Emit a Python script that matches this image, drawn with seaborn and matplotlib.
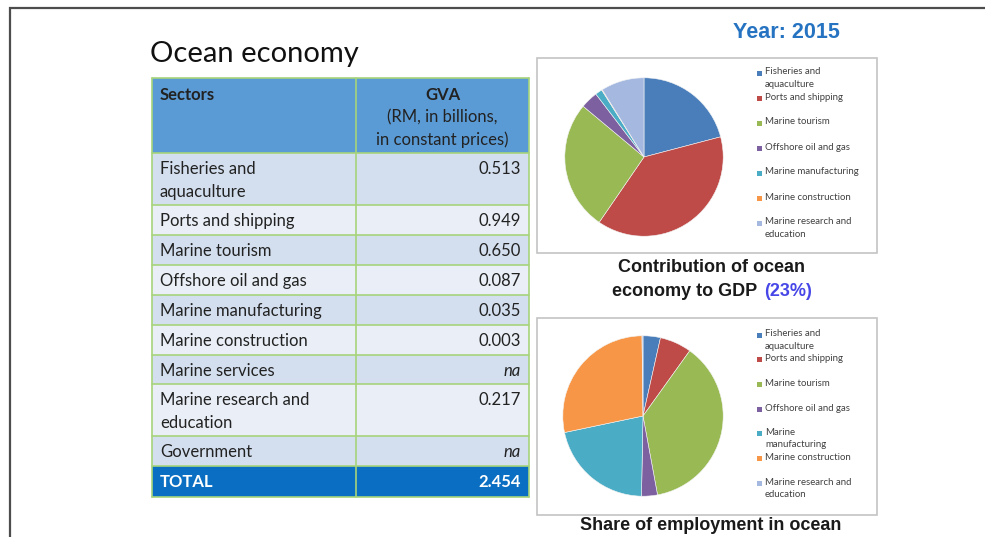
import matplotlib
matplotlib.use("Agg")
import matplotlib.pyplot as plt
from matplotlib.patches import Rectangle
import seaborn as sns

# ---- data -------------------------------------------------------------
sectors = ["Fisheries and\naquaculture", "Ports and shipping", "Marine tourism",
           "Offshore oil and gas", "Marine manufacturing", "Marine construction",
           "Marine services", "Marine research and\neducation", "Government"]
gva = [0.513, 0.949, 0.650, 0.087, 0.035, 0.003, None, 0.217, None]
gva_total = 2.454

pie_sectors = ["Fisheries and aquaculture", "Ports and shipping", "Marine tourism",
               "Offshore oil and gas", "Marine manufacturing", "Marine construction",
               "Marine research and education"]
gdp_values = [0.513, 0.949, 0.650, 0.087, 0.035, 0.003, 0.217]
employment_share = [3.5, 6.4, 37.2, 3.2, 21.4, 28.1, 0.2]

gdp_legend = ["Fisheries and\naquaculture", "Ports and shipping", "Marine tourism",
              "Offshore oil and gas", "Marine manufacturing", "Marine construction",
              "Marine research and\neducation"]
emp_legend = ["Fisheries and\naquaculture", "Ports and shipping", "Marine tourism",
              "Offshore oil and gas", "Marine\nmanufacturing", "Marine construction",
              "Marine research and\neducation"]

year_label = "Year: 2015"
gdp_share_label = "(23%)"

# ---- style ------------------------------------------------------------
sns.set_style("white")
plt.rcParams["font.family"] = ["Lato", "DejaVu Sans"]
palette = sns.color_palette(["#4a7ebb", "#be4b48", "#98b954", "#7d60a0",
                             "#4bacc6", "#f79646", "#a5b9e0"])

W, H = 985, 537
fig = plt.figure(figsize=(W / 100, H / 100), dpi=100)
fig.patch.set_facecolor("white")

canvas = fig.add_axes([0, 0, 1, 1])
canvas.set_xlim(0, W)
canvas.set_ylim(H, 0)
canvas.axis("off")

# slide frame
canvas.plot([10, 10, W], [H, 8, 8], color="#4d4d4d", lw=1.6, solid_joinstyle="miter")

# title
canvas.text(150, 62, "Ocean economy", fontsize=21, color="#111111",
            fontweight="normal", va="baseline", ha="left")
canvas.text(786, 33, year_label, fontsize=15.5, color="#2673c2", fontweight="bold",
            ha="center", va="center", family=["Liberation Sans Narrow", "Liberation Sans"])

# ---- table ------------------------------------------------------------
x_left, x_mid, x_right = 152, 356, 529
row_edges = [78, 153, 205, 235, 265, 295, 325, 355, 384, 436, 466, 497]
grid_color = "#a6d47a"
dark_row, light_row = "#d3dfef", "#eaeff7"
txt = "#222222"
fs = 12
pad = 8
lsp = 1.5

# header
canvas.add_patch(Rectangle((x_left, row_edges[0]), x_right - x_left,
                           row_edges[1] - row_edges[0], facecolor="#5b9bd5",
                           edgecolor="none"))
canvas.text(160, 87, "Sectors", fontsize=fs, fontweight="bold", color=txt, va="top")
canvas.text((x_mid + x_right) / 2, 87, "GVA", fontsize=fs, fontweight="bold",
            color=txt, va="top", ha="center")
canvas.text((x_mid + x_right) / 2, 109, "(RM, in billions,\nin constant prices)",
            fontsize=fs, color=txt, va="top", ha="center", linespacing=lsp)

# body rows
for i, (name, val) in enumerate(zip(sectors, gva)):
    top, bot = row_edges[i + 1], row_edges[i + 2]
    canvas.add_patch(Rectangle((x_left, top), x_right - x_left, bot - top,
                               facecolor=dark_row if i % 2 == 0 else light_row,
                               edgecolor="none"))
    canvas.text(160, top + pad, name, fontsize=fs, color=txt, va="top",
                linespacing=lsp)
    if val is None:
        canvas.text(521, top + pad, "na", fontsize=fs, color=txt, va="top",
                    ha="right", style="italic")
    else:
        canvas.text(521, top + pad, f"{val:.3f}", fontsize=fs, color=txt,
                    va="top", ha="right")

# total row
top, bot = row_edges[-2], row_edges[-1]
canvas.add_patch(Rectangle((x_left, top), x_right - x_left, bot - top,
                           facecolor="#0a6fc2", edgecolor="none"))
canvas.text(160, top + pad, "TOTAL", fontsize=fs, color="white", fontweight="bold", va="top")
canvas.text(521, top + pad, f"{gva_total:.3f}", fontsize=fs, color="white",
            fontweight="bold", va="top", ha="right")

# grid lines
for y in row_edges:
    canvas.plot([x_left, x_right], [y, y], color=grid_color, lw=1.2)
for x in (x_left, x_mid, x_right):
    canvas.plot([x, x], [row_edges[0], row_edges[-1]], color=grid_color, lw=1.2)

# ---- pie panels ----------------------------------------------------------
def pie_panel(box, center, radius, values, labels, legend_y0, legend_step):
    bx0, by0, bx1, by1 = box
    canvas.add_patch(Rectangle((bx0, by0), bx1 - bx0, by1 - by0, facecolor="white",
                               edgecolor="#c4c4c4", lw=1.2))
    cx, cy = center
    ax = fig.add_axes([(cx - radius) / W, (H - cy - radius) / H,
                       2 * radius / W, 2 * radius / H])
    ax.pie(values, colors=palette, startangle=90, counterclock=False,
           wedgeprops=dict(linewidth=0.4, edgecolor="#f4f4f4"))
    ax.set_xlim(-1.01, 1.01)
    ax.set_ylim(-1.01, 1.01)
    ax.set_aspect("auto")
    ax.axis("off")
    for i, lab in enumerate(labels):
        y = legend_y0 + i * legend_step
        canvas.add_patch(Rectangle((757, y - 2.5), 5, 5, facecolor=palette[i],
                                   edgecolor="none"))
        canvas.text(765, y - 5.5, lab, fontsize=6.9, color="#404040", va="top",
                    ha="left", linespacing=1.45)

pie_panel((537, 58, 877, 253), (644, 157), 80, gdp_values, gdp_legend, 73, 25)
pie_panel((537, 318, 877, 515), (643, 416), 81, employment_share, emp_legend, 335, 24.7)

# captions
cap_font = ["Liberation Sans", "DejaVu Sans"]
cap = dict(fontsize=13, fontweight="bold", family=cap_font)
canvas.text(712, 268, "Contribution of ocean", ha="center", va="center",
            color="#1a1a1a", **cap)
canvas.text(711, 525, "Share of employment in ocean", ha="center", va="center",
            color="#1a1a1a", **cap)

# second caption line: black text followed by a blue share, centred as one line
renderer = fig.canvas.get_renderer()
part1 = canvas.text(0, 292, "economy to GDP", ha="left", va="center",
                    color="#1a1a1a", **cap)
part2 = canvas.text(0, 292, gdp_share_label, ha="left", va="center",
                    color="#4747e8", **cap)
w1 = part1.get_window_extent(renderer).width
w2 = part2.get_window_extent(renderer).width
gap = 6
x0 = 712 - (w1 + gap + w2) / 2
part1.set_x(x0)
part2.set_x(x0 + w1 + gap)

fig.savefig("out.png", dpi=100, facecolor="white")
